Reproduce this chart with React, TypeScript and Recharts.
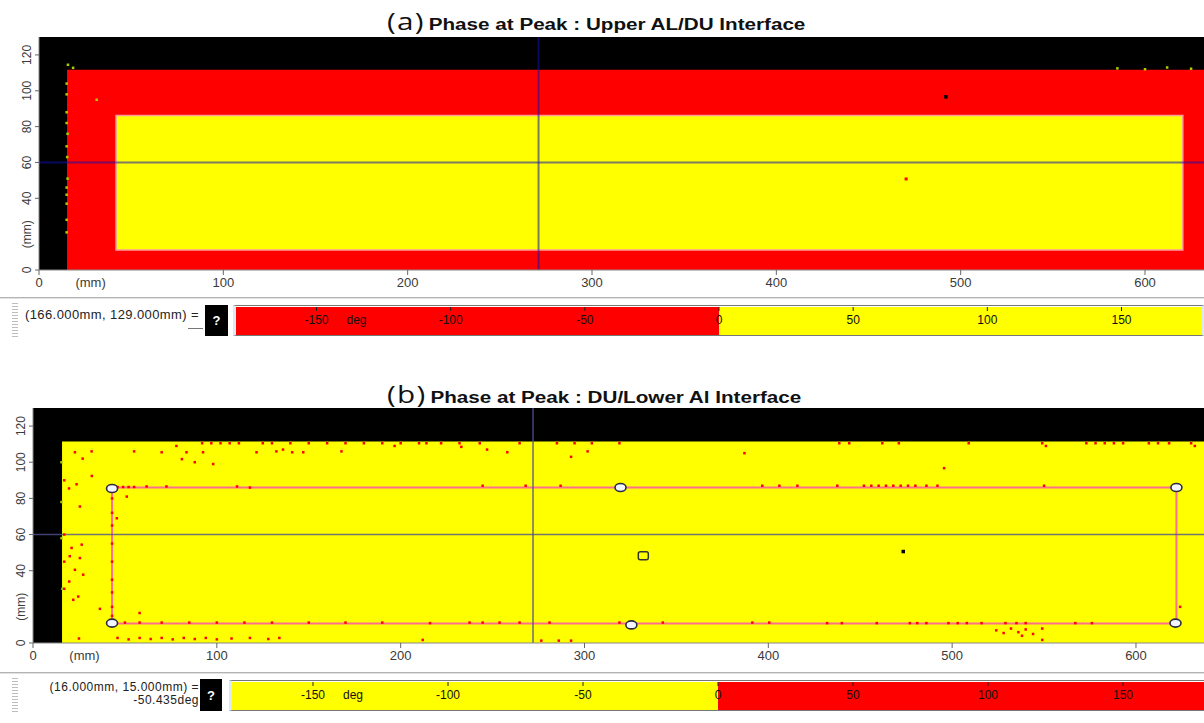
import React from 'react'
import { ComposedChart, XAxis, YAxis, ReferenceArea, ReferenceLine, Scatter } from 'recharts'

const RED = '#ff0000'
const YELLOW = '#ffff00'
const BLACK = '#000000'

// scan axes (mm)
const xTicks = [0, 28, 100, 200, 300, 400, 500, 600]
const yTicks = [0, 20, 40, 60, 80, 100, 120]
const X_UNIT_TICK = 28
const Y_UNIT_TICK = 20
const Y_MAX = 130
const A_X_MAX = 632
const B_X_MAX = 637

// phase colour bars (deg)
const phaseTicks = [-150, -100, -50, 0, 50, 100, 150]
const aScale = [
  { from: -180, to: 0, color: RED },
  { from: 0, to: 180, color: YELLOW },
]
const bScale = [
  { from: -180, to: 0, color: YELLOW },
  { from: 0, to: 180, color: RED },
]

// (a) upper AL/DU interface - phase == null means no signal
const aRegions = [
  { x1: 0, x2: 632, y1: 0, y2: 130, phase: null },
  { x1: 15.2, x2: 632, y1: 0, y2: 111.7, phase: -120 },
  { x1: 41.8, x2: 620.5, y1: 11.2, y2: 86.2, phase: 60 },
]
const aCursor = { x: 271, y: 60 }
const aGreen = [
  [15.7, 114.5], [18.5, 112.8], [15, 104], [15, 98], [15, 88], [15, 82], [15.5, 76], [15, 69],
  [15.3, 63], [15.5, 51], [15, 46], [15, 42], [15, 37], [15, 28], [15, 21], [31.3, 95],
  [585, 112.5], [600, 112], [612, 113], [625, 112.3],
]
const aRedDots = [[470.4, 50.8]]
const aBlackDots = [[492, 96.6]]
const aReadout = ['(166.000mm, 129.000mm) =']

// (b) DU/lower Al interface
const bRegions = [
  { x1: 0, x2: 637, y1: 0, y2: 130, phase: null },
  { x1: 15.8, x2: 637, y1: 0, y2: 111.5, phase: -50 },
]
const bGate = { x1: 43, x2: 622, y1: 10.8, y2: 86 }
const bCursor = { x: 272, y: 60 }
const bHandles = [[43, 85.5], [319.6, 86], [622, 86], [43, 11], [325.5, 10], [621.5, 11]]
const bCenter = [[332, 48.3]]
const bBlackDots = [[473.4, 50.6]]
const bGreen = [[15.5, 100], [15.5, 78], [15.5, 58], [16, 30]]
const bRed = [
  [22.8, 105.5], [31.9, 106], [27, 102], [55, 106], [70, 105.5], [78, 109], [81, 101.7], [83.5, 105.5],
  [88, 100], [92.5, 105.5], [98, 99], [32, 92.4], [23.7, 87.8], [19.6, 85.5], [51, 81], [25.5, 75.5],
  [45.6, 69], [21, 52.6], [26.5, 54.4], [25.5, 47], [20, 48], [22.8, 40.5], [27.3, 37.8], [19.7, 34],
  [21.9, 23.9], [24.6, 25.7], [36.4, 18.9], [58, 16.6],
  [46, 86.3], [49, 86.3], [52, 86.3], [55, 86.3], [61.8, 86.6], [72.6, 86.6], [111, 86.6], [118, 86],
  [121.6, 105.5], [132.4, 106], [136, 107], [141, 105.5], [147, 105.5], [167.8, 106], [196.7, 109],
  [92, 110.5], [97, 110.5], [102, 110.5], [107, 110.5], [112, 110.5], [125, 110.5], [130, 110.5],
  [140, 110.5], [150, 110.5], [160, 110.5], [170, 110.5], [180, 110.5], [190, 110.5], [200, 110.5],
  [210, 110.5], [214, 110.5], [222, 110.5], [232, 110.5], [243, 110.5], [264.7, 110.5], [285, 110.5],
  [294.6, 110.5], [304, 110.5], [319, 110.5], [438.6, 110.5], [444, 110.5], [462, 110.5], [471, 110.5],
  [509, 110.5], [549, 110.5], [573, 110.5], [578, 110.5], [583, 110.5], [588, 110.5], [593, 110.5],
  [607, 110.5], [612, 110.5], [618, 110.5], [630, 110.5], [632, 109],
  [17, 90], [17, 60], [17, 45], [17, 30],
  [233, 108.5], [247, 107], [258, 105.5], [292.7, 103], [301.7, 106], [387, 105], [495.6, 96.7], [551, 109],
  [244.6, 87], [268, 87], [287, 87], [396.7, 87], [406, 87], [415.8, 87], [437.5, 87], [452, 87],
  [456, 87], [460, 87], [464, 87], [468, 87], [472, 87], [476, 87], [480, 87], [486, 87], [492, 87], [550, 87],
  [43, 80], [43, 72], [43, 65], [43, 55], [43, 45], [43, 35], [43, 28], [43, 20], [43, 15],
  [50, 11.3], [58, 11.3], [70, 11.3], [85, 11.3], [100, 11.3], [115, 11.3], [130, 11.3], [150, 11.3],
  [170, 11.3], [190, 11.3], [216, 11], [237.5, 11.3], [244.6, 11.3], [253.8, 11.3], [264.7, 11.3],
  [281, 11.3], [319, 11.3], [342.6, 11.3], [391.3, 11.3], [400.5, 11.3], [432, 11], [440, 11], [459, 11],
  [477, 11], [481, 11], [486, 11], [498, 11], [503, 11], [508, 11], [516, 11], [529, 11], [535, 11],
  [540, 11], [567, 11], [576, 11],
  [524, 7], [528, 5.5], [532, 8], [536, 6], [540, 7.5], [544, 5], [549, 8], [549, 1.7], [538, 4],
  [25, 2.5], [46, 2.8], [52, 2], [58, 2.8], [64, 2.2], [70, 2.8], [76, 2], [82, 2.8], [88, 2.2],
  [94, 2.8], [100, 2], [108, 2.5], [118, 2.8], [128, 2.2], [134, 2.8], [212, 1.7], [276.5, 1.3],
  [286, 1.3], [292.7, 1.3], [624, 20],
]
const bReadout = ['(16.000mm, 15.000mm) =', '-50.435deg']

const pts = (list: number[][]) => list.map(([x, y]) => ({ x, y }))

const colorFor = (scale: typeof aScale, phase: number | null) => {
  if (phase === null) return BLACK
  const seg = scale.find((s) => phase >= s.from && phase < s.to)
  return seg ? seg.color : BLACK
}

const speck = (color: string, size = 3) => (p: any) => (
  <rect x={p.cx - size / 2} y={p.cy - size / 2} width={size} height={size} fill={color} />
)

const handle = (p: any) => (
  <ellipse cx={p.cx} cy={p.cy} rx={5.5} ry={4} fill="#f4f6ff" stroke="#2a2a40" strokeWidth={1.6} />
)

const centerMark = (p: any) => (
  <rect x={p.cx - 5} y={p.cy - 4} width={10} height={8} rx={2} fill={YELLOW} stroke="#333" strokeWidth={1.5} />
)

const XTick = (p: any) => {
  const { x, y, payload } = p
  const unit = payload.value === X_UNIT_TICK
  return (
    <g>
      {!unit && <line x1={x} x2={x} y1={y} y2={y + 5} stroke="#666" />}
      <text x={x} y={y + 17} textAnchor="middle" fontSize={13} fill="#3a3a3a">
        {unit ? '(mm)' : payload.value}
      </text>
    </g>
  )
}

const YTick = (p: any) => {
  const { x, y, payload } = p
  const unit = payload.value === Y_UNIT_TICK
  const tx = x - 12
  return (
    <g>
      {!unit && <line x1={x - 4} x2={x} y1={y} y2={y} stroke="#666" />}
      <text x={tx} y={y} transform={`rotate(-90 ${tx} ${y})`} textAnchor="middle" dominantBaseline="central" fontSize={12} fill="#3a3a3a">
        {unit ? '(mm)' : payload.value}
      </text>
    </g>
  )
}

const BarTick = (p: any) => {
  const { x, y, payload } = p
  return (
    <g>
      <line x1={x} x2={x} y1={y} y2={y + 4} stroke="#222" />
      <text x={x} y={y + 17} textAnchor="middle" fontSize={12} fill="#111">{payload.value}</text>
      {payload.value === -150 && (
        <text x={x + 30} y={y + 17} fontSize={12} fill="#111">deg</text>
      )}
    </g>
  )
}

const barData = phaseTicks.map((v) => ({ x: v, y: 0.5 }))

function ColorBar({ scale, width }: { scale: typeof aScale; width: number }) {
  return (
    <ComposedChart width={width} height={29} data={barData} margin={{ top: 0, right: 0, bottom: 0, left: 0 }}>
      <XAxis type="number" dataKey="x" domain={[-180, 180]} ticks={phaseTicks} interval={0} orientation="top" height={1}
        axisLine={false} tickLine={false} tickSize={0} tickMargin={0} tick={(p: any) => <BarTick {...p} />} />
      <YAxis type="number" dataKey="y" domain={[0, 1]} width={0} tick={false} axisLine={false} tickLine={false} />
      {scale.map((s) => (
        <ReferenceArea key={s.from} x1={s.from} x2={s.to} y1={0} y2={1} fill={s.color} fillOpacity={1} stroke="none" ifOverflow="visible" />
      ))}
      <Scatter data={barData} shape={() => <g />} isAnimationActive={false} />
    </ComposedChart>
  )
}

const cursorStroke = { stroke: '#1010b0', strokeWidth: 2, strokeOpacity: 0.55 }

function PanelA() {
  return (
    <ComposedChart width={1204} height={300} margin={{ top: 37, right: 0, bottom: 0, left: 0 }}>
      <XAxis type="number" dataKey="x" domain={[0, A_X_MAX]} ticks={xTicks} interval={0} height={30}
        tickSize={0} tickMargin={0} tickLine={false} axisLine={{ stroke: '#888' }} tick={(p: any) => <XTick {...p} />} />
      <YAxis type="number" dataKey="y" domain={[0, Y_MAX]} ticks={yTicks} interval={0} width={39}
        tickSize={0} tickMargin={0} tickLine={false} axisLine={{ stroke: '#888' }} tick={(p: any) => <YTick {...p} />} />
      {aRegions.map((r, i) => (
        <ReferenceArea key={i} x1={r.x1} x2={r.x2} y1={r.y1} y2={r.y2} fill={colorFor(aScale, r.phase)} fillOpacity={1}
          stroke={r.phase !== null && r.phase > 0 ? '#ff9c9c' : 'none'} strokeWidth={1.5} />
      ))}
      <ReferenceLine x={aCursor.x} {...cursorStroke} />
      <ReferenceLine y={aCursor.y} {...cursorStroke} />
      <Scatter data={pts(aGreen)} shape={speck('#a8d000', 2.5)} isAnimationActive={false} />
      <Scatter data={pts(aRedDots)} shape={speck(RED, 3)} isAnimationActive={false} />
      <Scatter data={pts(aBlackDots)} shape={speck(BLACK, 3.5)} isAnimationActive={false} />
    </ComposedChart>
  )
}

function PanelB() {
  return (
    <ComposedChart width={1204} height={302} margin={{ top: 37, right: 0, bottom: 0, left: 0 }}>
      <XAxis type="number" dataKey="x" domain={[0, B_X_MAX]} ticks={xTicks} interval={0} height={30}
        tickSize={0} tickMargin={0} tickLine={false} axisLine={{ stroke: '#888' }} tick={(p: any) => <XTick {...p} />} />
      <YAxis type="number" dataKey="y" domain={[0, Y_MAX]} ticks={yTicks} interval={0} width={33}
        tickSize={0} tickMargin={0} tickLine={false} axisLine={{ stroke: '#888' }} tick={(p: any) => <YTick {...p} />} />
      {bRegions.map((r, i) => (
        <ReferenceArea key={i} x1={r.x1} x2={r.x2} y1={r.y1} y2={r.y2} fill={colorFor(bScale, r.phase)} fillOpacity={1} stroke="none" />
      ))}
      <Scatter data={pts(bGreen)} shape={speck('#a8c800', 2.5)} isAnimationActive={false} />
      <Scatter data={pts(bRed)} shape={speck(RED, 2.5)} isAnimationActive={false} />
      <ReferenceArea x1={bGate.x1} x2={bGate.x2} y1={bGate.y1} y2={bGate.y2} fill="none" fillOpacity={0}
        stroke="#ff6f8f" strokeWidth={2} />
      <ReferenceLine x={bCursor.x} stroke="#50508e" strokeWidth={1.6} strokeOpacity={0.8} />
      <ReferenceLine y={bCursor.y} stroke="#50508e" strokeWidth={1.6} strokeOpacity={0.8} />
      <Scatter data={pts(bBlackDots)} shape={speck(BLACK, 3.5)} isAnimationActive={false} />
      <Scatter data={pts(bHandles)} shape={handle} isAnimationActive={false} />
      <Scatter data={pts(bCenter)} shape={centerMark} isAnimationActive={false} />
    </ComposedChart>
  )
}

function Title({ top, tag, text }: { top: number; tag: string; text: string }) {
  return (
    <div style={{ position: 'absolute', left: 387, top, whiteSpace: 'nowrap', display: 'flex', alignItems: 'baseline',
      transform: 'scaleX(1.29)', transformOrigin: 'left center', color: '#111' }}>
      <span style={{ fontFamily: '"Open Sans", sans-serif', fontSize: 23, letterSpacing: 1 }}>{tag}</span>
      <span style={{ fontFamily: '"Liberation Sans", Arial, sans-serif', fontWeight: 'bold', fontSize: 16, marginLeft: 3 }}>{text}</span>
    </div>
  )
}

function Separator({ top }: { top: number }) {
  return <div style={{ position: 'absolute', left: 0, top, width: 1204, height: 0, borderTop: '1px solid #b4b4b4', borderBottom: '1px solid #e2e2e2' }} />
}

function Grip({ top }: { top: number }) {
  return (
    <div style={{ position: 'absolute', left: 12, top, width: 6, height: 36,
      background: 'repeating-linear-gradient(to bottom, #bdbdbd 0px, #bdbdbd 1px, transparent 1px, transparent 3px)' }} />
  )
}

function QBox({ left, top, width, height }: { left: number; top: number; width: number; height: number }) {
  return (
    <div style={{ position: 'absolute', left, top, width, height, background: '#000', color: '#fff', fontWeight: 'bold',
      fontSize: 13, display: 'flex', alignItems: 'center', justifyContent: 'center' }}>?</div>
  )
}

export default function App() {
  return (
    <div style={{ position: 'absolute', left: 0, top: 0, width: 1204, height: 723, background: '#fff', overflow: 'hidden',
      fontFamily: '"Liberation Sans", Arial, sans-serif' }}>
      <div style={{ position: 'absolute', left: 0, top: 0 }}><PanelA /></div>
      <div style={{ position: 'absolute', left: 0, top: 371 }}><PanelB /></div>
      <Title top={5} tag="(a)" text="Phase at Peak : Upper AL/DU Interface" />
      <Title top={378} tag="(b)" text="Phase at Peak : DU/Lower Al Interface" />

      <Separator top={297} />
      <Grip top={303} />
      <div style={{ position: 'absolute', left: 25, top: 307, fontSize: 13, letterSpacing: 0.4, color: '#222', whiteSpace: 'nowrap' }}>
        {aReadout[0]}
      </div>
      <div style={{ position: 'absolute', left: 188, top: 328, width: 15, borderTop: '1px solid #777' }} />
      <QBox left={205} top={305} width={23} height={31} />
      <div style={{ position: 'absolute', left: 233, top: 305, borderTop: '1px solid #777', borderBottom: '1px solid #777',
        borderLeft: '3px solid #dde9f3', borderRight: '2px solid #dde9f3', height: 29 }}>
        <ColorBar scale={aScale} width={966} />
      </div>

      <Separator top={672} />
      <Grip top={678} />
      <div style={{ position: 'absolute', left: 0, top: 681, width: 199, textAlign: 'right', fontSize: 12, lineHeight: '13px',
        letterSpacing: 0.5, color: '#222', whiteSpace: 'nowrap' }}>
        <div>{bReadout[0]}</div>
        <div>{bReadout[1]}</div>
      </div>
      <QBox left={200} top={679} width={22} height={32} />
      <div style={{ position: 'absolute', left: 229, top: 680, borderTop: '1px solid #777', borderBottom: '1px solid #777',
        borderLeft: '3px solid #dde9f3', height: 29 }}>
        <ColorBar scale={bScale} width={972} />
      </div>
    </div>
  )
}
